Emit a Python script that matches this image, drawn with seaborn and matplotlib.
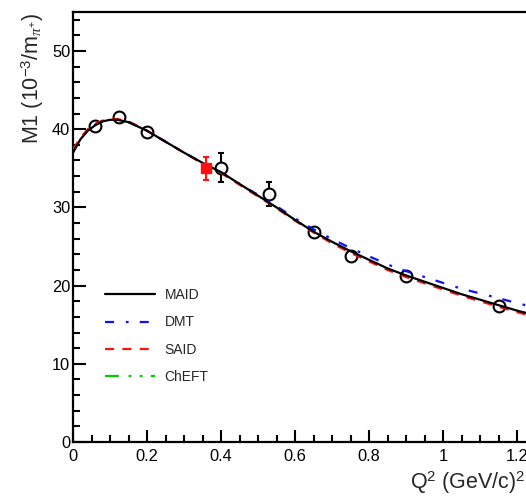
import matplotlib
matplotlib.use("Agg")
import matplotlib.pyplot as plt
import pandas as pd
import seaborn as sns
from matplotlib.lines import Line2D
from matplotlib.ticker import MultipleLocator

# Model curves sampled on a Q^2 grid (GeV/c)^2
q2_grid = [0.00, 0.02, 0.04, 0.06, 0.08, 0.10, 0.12, 0.15, 0.20, 0.25,
           0.30, 0.35, 0.40, 0.45, 0.50, 0.55, 0.60, 0.65, 0.70, 0.75,
           0.80, 0.85, 0.90, 0.95, 1.00, 1.05, 1.10, 1.15, 1.20, 1.25]
maid = [37.0, 38.7, 39.8, 40.5, 41.0, 41.2, 41.2, 40.9, 39.8, 38.4,
        37.0, 35.7, 34.5, 33.0, 31.5, 30.0, 28.4, 26.9, 25.6, 24.4,
        23.3, 22.2, 21.3, 20.5, 19.7, 18.9, 18.2, 17.5, 16.8, 16.2]
dmt = [37.1, 38.8, 39.9, 40.6, 41.0, 41.2, 41.2, 40.9, 39.8, 38.4,
       37.0, 35.7, 34.5, 33.0, 31.6, 30.15, 28.6, 27.2, 25.95, 24.8,
       23.75, 22.7, 21.85, 21.1, 20.35, 19.6, 19.0, 18.4, 17.75, 17.2]
said = [37.4, 38.9, 40.0, 40.7, 41.1, 41.3, 41.3, 41.0, 39.8, 38.4,
        37.0, 35.6, 34.4, 32.9, 31.4, 29.9, 28.3, 26.8, 25.4, 24.2,
        23.1, 22.0, 21.1, 20.3, 19.5, 18.7, 18.0, 17.3, 16.6, 16.0]
cheft_q2 = []
cheft = []

# Previous measurements (open circles)
exp_q2 = [0.06, 0.125, 0.20, 0.40, 0.53, 0.65, 0.75, 0.90, 1.15]
exp_m1 = [40.4, 41.5, 39.7, 35.1, 31.7, 26.9, 23.8, 21.2, 17.4]
exp_err = [0.4, 0.4, 0.4, 1.8, 1.5, 0.4, 0.4, 0.4, 0.4]

# This measurement (red square)
new_q2 = [0.36]
new_m1 = [35.0]
new_err = [1.5]

sns.set_theme(style="ticks")
plt.rcParams["font.family"] = ["Liberation Sans", "DejaVu Sans"]
plt.rcParams["mathtext.fontset"] = "custom"
plt.rcParams["mathtext.rm"] = "Liberation Sans"
plt.rcParams["mathtext.it"] = "Liberation Serif:italic"
plt.rcParams["lines.scale_dashes"] = False

fig = plt.figure(figsize=(5.26, 4.99), dpi=100)
ax = fig.add_axes([0.1388, 0.1142, 0.8793, 0.862])

curves = pd.DataFrame({
    "Q2": q2_grid * 3,
    "M1": maid + dmt + said,
    "model": ["MAID"] * len(q2_grid) + ["DMT"] * len(q2_grid) + ["SAID"] * len(q2_grid),
})

cheft_style = dict(color="#00cc00", linestyle=(0, (10, 7, 2, 6, 2, 6)))
styles = {
    "MAID": dict(color="black", linestyle="-"),
    "DMT": dict(color="#1010ff", linestyle=(0, (6.5, 8.5, 2, 8))),
    "SAID": dict(color="#ff1010", linestyle=(0, (6.5, 6))),
}
for order, name in enumerate(["DMT", "SAID", "MAID"]):
    sub = curves[curves["model"] == name]
    sns.lineplot(data=sub, x="Q2", y="M1", ax=ax, lw=1.6, label=None,
                 zorder=3 + order, **styles[name])

sns.lineplot(x=cheft_q2, y=cheft, ax=ax, lw=1.6, **cheft_style)

ax.errorbar(exp_q2, exp_m1, yerr=exp_err, fmt="o", ms=8.5, mfc="white",
            mec="black", mew=1.5, ecolor="black", elinewidth=1.5,
            capsize=2.5, capthick=1.5, zorder=2)
ax.errorbar(new_q2, new_m1, yerr=new_err, fmt="s", ms=7, mfc="#ff1010",
            mec="#ff1010", ecolor="#ff1010", elinewidth=1.5,
            capsize=2.5, capthick=1.5, zorder=7)

ax.set_xlim(0, 1.25)
ax.set_ylim(0, 55)
ax.xaxis.set_major_locator(MultipleLocator(0.2))
ax.xaxis.set_minor_locator(MultipleLocator(0.05))
ax.yaxis.set_major_locator(MultipleLocator(10))
ax.yaxis.set_minor_locator(MultipleLocator(2))
ax.xaxis.set_major_formatter(plt.FuncFormatter(lambda v, p: f"{v:g}"))

for side in ["left", "bottom", "top", "right"]:
    ax.spines[side].set_linewidth(1.6)
    ax.spines[side].set_color("black")
ax.tick_params(which="both", direction="in", top=False, right=False,
               width=1.5, colors="black", labelsize=11.8)
ax.tick_params(which="major", length=9)
ax.tick_params(which="minor", length=4.7)
ax.tick_params(axis="y", which="major", pad=2)
ax.tick_params(axis="x", which="major", pad=5)
ax.set_xlabel("")
ax.set_ylabel("")

fig.text(33 / 526, 1 - 12 / 499, r"M1 (10$^{-3}$/m$_{\pi^{+}}$)",
         rotation=90, ha="center", va="top", fontsize=15.5)
fig.text(0.999, 10 / 499, r"Q$^{2}$ (GeV/c)$^{2}$", ha="right",
         va="baseline", fontsize=15.5)

handles = [
    Line2D([], [], lw=1.6, **styles["MAID"]),
    Line2D([], [], lw=1.6, **styles["DMT"]),
    Line2D([], [], lw=1.6, **styles["SAID"]),
    Line2D([], [], lw=1.6, **cheft_style),
]
ax.legend(handles, ["MAID", "DMT", "SAID", "ChEFT"], loc="center left",
          bbox_to_anchor=(105 / 526, 1 - 336 / 499),
          bbox_transform=fig.transFigure, frameon=False, fontsize=10,
          handlelength=3.6, handletextpad=0.7, labelspacing=0.95,
          borderpad=0, borderaxespad=0)

fig.savefig("out.png", dpi=100)
